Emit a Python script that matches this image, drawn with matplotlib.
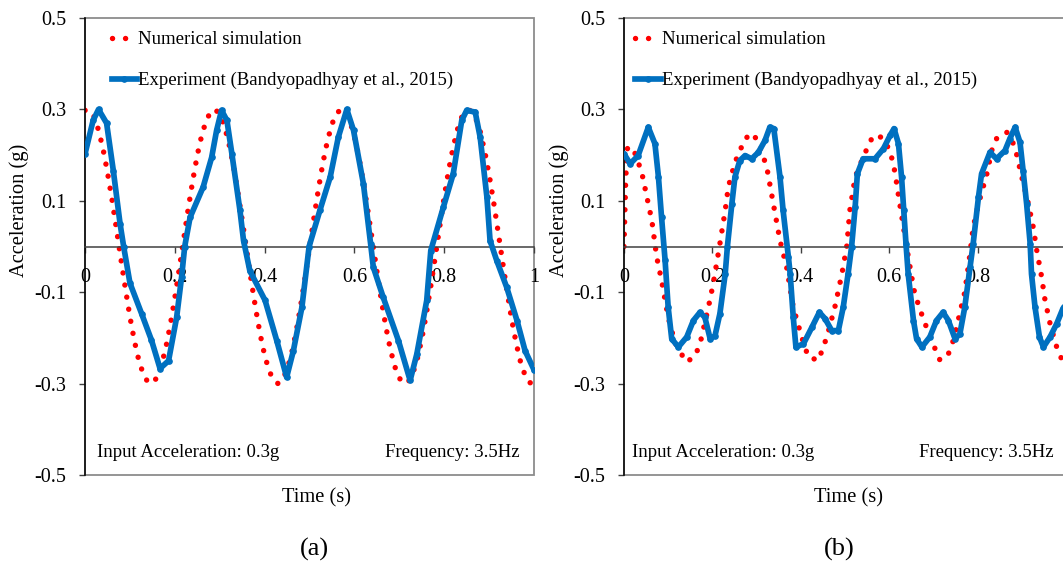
import matplotlib
matplotlib.use("Agg")
import matplotlib.pyplot as plt
from matplotlib.lines import Line2D

plt.rcParams['font.family'] = ['Liberation Serif', 'DejaVu Serif']
plt.rcParams['axes.unicode_minus'] = False

# ---- (a) numerical simulation, time (s) and acceleration (g) ----
t_num_a = [0.00, 0.01, 0.02, 0.03, 0.04, 0.05, 0.06, 0.07, 0.08, 0.09,
           0.10, 0.11, 0.12, 0.13, 0.14, 0.15, 0.16, 0.17, 0.18, 0.19,
           0.20, 0.21, 0.22, 0.23, 0.24, 0.25, 0.26, 0.27, 0.28, 0.29,
           0.30, 0.31, 0.32, 0.33, 0.34, 0.35, 0.36, 0.37, 0.38, 0.39,
           0.40, 0.41, 0.42, 0.43, 0.44, 0.45, 0.46, 0.47, 0.48, 0.49,
           0.50, 0.51, 0.52, 0.53, 0.54, 0.55, 0.56, 0.57, 0.58, 0.59,
           0.60, 0.61, 0.62, 0.63, 0.64, 0.65, 0.66, 0.67, 0.68, 0.69,
           0.70, 0.71, 0.72, 0.73, 0.74, 0.75, 0.76, 0.77, 0.78, 0.79,
           0.80, 0.81, 0.82, 0.83, 0.84, 0.85, 0.86, 0.87, 0.88, 0.89,
           0.90, 0.91, 0.92, 0.93, 0.94, 0.95, 0.96, 0.97, 0.98, 0.99, 1.00]
a_num_a = [0.298, 0.298, 0.284, 0.255, 0.214, 0.162, 0.103, 0.038, -0.028, -0.093,
           -0.154, -0.207, -0.250, -0.280, -0.297, -0.299, -0.287, -0.260, -0.221, -0.171,
           -0.112, -0.048, 0.018, 0.084, 0.145, 0.200, 0.244, 0.276, 0.295, 0.300,
           0.289, 0.265, 0.227, 0.179, 0.121, 0.058, -0.008, -0.074, -0.136, -0.192,
           -0.238, -0.272, -0.293, -0.300, -0.292, -0.269, -0.234, -0.187, -0.131, -0.068,
           -0.002, 0.064, 0.127, 0.184, 0.232, 0.268, 0.291, 0.300, 0.294, 0.274,
           0.240, 0.195, 0.140, 0.078, 0.012, -0.054, -0.118, -0.176, -0.225, -0.263,
           -0.288, -0.300, -0.296, -0.278, -0.246, -0.202, -0.148, -0.087, -0.022, 0.044,
           0.109, 0.168, 0.218, 0.258, 0.286, 0.299, 0.297, 0.281, 0.252, 0.209,
           0.157, 0.097, 0.032, -0.034, -0.099, -0.159, -0.211, -0.253, -0.282, -0.298, -0.299]

# ---- (a) experiment ----
t_exp_a = [0.000, 0.018, 0.030, 0.048, 0.063, 0.078, 0.086, 0.100, 0.126, 0.148,
           0.167, 0.186, 0.204, 0.215, 0.222, 0.234, 0.263, 0.282, 0.293, 0.304,
           0.316, 0.327, 0.345, 0.353, 0.367, 0.401, 0.427, 0.449, 0.464, 0.483,
           0.499, 0.523, 0.546, 0.564, 0.583, 0.598, 0.620, 0.636, 0.642, 0.664,
           0.698, 0.724, 0.739, 0.761, 0.770, 0.798, 0.820, 0.839, 0.850, 0.869,
           0.880, 0.895, 0.902, 0.917, 0.939, 0.962, 0.980, 1.000]
a_exp_a = [0.203, 0.276, 0.300, 0.270, 0.166, 0.050, 0.000, -0.080, -0.147, -0.205,
           -0.267, -0.250, -0.155, -0.067, 0.000, 0.064, 0.130, 0.195, 0.254, 0.298,
           0.276, 0.203, 0.079, 0.013, -0.053, -0.118, -0.206, -0.286, -0.228, -0.133,
           0.000, 0.079, 0.152, 0.239, 0.300, 0.254, 0.137, 0.006, -0.045, -0.111,
           -0.206, -0.293, -0.235, -0.118, -0.009, 0.086, 0.159, 0.276, 0.298, 0.294,
           0.239, 0.108, 0.013, -0.031, -0.089, -0.162, -0.228, -0.270]

# ---- (b) numerical simulation ----
t_num_b = [0.000, 0.004, 0.008, 0.020, 0.040, 0.051, 0.063, 0.074, 0.085, 0.100,
           0.115, 0.127, 0.142, 0.161, 0.172, 0.191, 0.202, 0.216, 0.229, 0.236,
           0.251, 0.274, 0.291, 0.304, 0.323, 0.338, 0.353, 0.368, 0.383, 0.402,
           0.417, 0.440, 0.459, 0.477, 0.493, 0.504, 0.511, 0.523, 0.541, 0.553,
           0.564, 0.583, 0.602, 0.613, 0.624, 0.636, 0.651, 0.658, 0.677, 0.696,
           0.715, 0.734, 0.745, 0.756, 0.771, 0.781, 0.790, 0.802, 0.821, 0.832,
           0.843, 0.866, 0.881, 0.888, 0.900, 0.915, 0.926, 0.934, 0.945, 0.952,
           0.964, 0.979, 0.990, 1.000]
a_num_b = [0.000, 0.150, 0.215, 0.217, 0.163, 0.112, 0.057, -0.023, -0.074, -0.155,
           -0.209, -0.231, -0.253, -0.239, -0.213, -0.133, -0.081, 0.000, 0.079, 0.130,
           0.184, 0.236, 0.248, 0.228, 0.174, 0.093, 0.013, -0.045, -0.133, -0.198,
           -0.242, -0.249, -0.198, -0.133, -0.060, 0.000, 0.079, 0.152, 0.195, 0.221,
           0.243, 0.239, 0.210, 0.163, 0.093, 0.020, -0.067, -0.104, -0.158, -0.206,
           -0.249, -0.235, -0.206, -0.162, -0.100, -0.030, 0.042, 0.093, 0.159, 0.210,
           0.236, 0.250, 0.225, 0.203, 0.152, 0.093, 0.042, -0.009, -0.067, -0.114,
           -0.169, -0.220, -0.246, -0.255]

# ---- (b) experiment ----
t_exp_b = [0.000, 0.014, 0.032, 0.055, 0.070, 0.078, 0.085, 0.093, 0.100, 0.108,
           0.123, 0.142, 0.157, 0.172, 0.183, 0.195, 0.206, 0.217, 0.229, 0.234,
           0.244, 0.251, 0.262, 0.274, 0.289, 0.304, 0.319, 0.330, 0.339, 0.353,
           0.360, 0.372, 0.376, 0.383, 0.389, 0.406, 0.425, 0.442, 0.455, 0.470,
           0.485, 0.496, 0.507, 0.515, 0.523, 0.528, 0.541, 0.568, 0.587, 0.602,
           0.611, 0.621, 0.628, 0.633, 0.638, 0.643, 0.655, 0.662, 0.674, 0.692,
           0.707, 0.722, 0.734, 0.749, 0.760, 0.771, 0.783, 0.790, 0.802, 0.809,
           0.828, 0.843, 0.862, 0.873, 0.885, 0.896, 0.903, 0.911, 0.919, 0.922,
           0.930, 0.940, 0.949, 0.964, 0.979, 0.993, 1.000]
a_exp_b = [0.203, 0.181, 0.199, 0.261, 0.225, 0.152, 0.064, -0.030, -0.133, -0.202,
           -0.220, -0.198, -0.162, -0.144, -0.155, -0.202, -0.195, -0.147, -0.060, 0.000,
           0.093, 0.152, 0.188, 0.199, 0.192, 0.206, 0.232, 0.261, 0.258, 0.152,
           0.079, -0.023, -0.060, -0.155, -0.220, -0.213, -0.177, -0.144, -0.158, -0.184,
           -0.184, -0.133, -0.060, 0.000, 0.086, 0.159, 0.192, 0.192, 0.214, 0.243,
           0.258, 0.225, 0.152, 0.079, 0.006, -0.060, -0.162, -0.202, -0.220, -0.198,
           -0.162, -0.144, -0.162, -0.202, -0.191, -0.133, -0.045, 0.006, 0.108, 0.159,
           0.206, 0.192, 0.210, 0.236, 0.261, 0.228, 0.166, 0.093, 0.006, -0.060,
           -0.133, -0.198, -0.220, -0.198, -0.169, -0.136, -0.125]

y_ticks = [-0.5, -0.3, -0.1, 0.1, 0.3, 0.5]
y_labels = ['-0.5', '-0.3', '-0.1', '0.1', '0.3', '0.5']
x_ticks = [0, 0.2, 0.4, 0.6, 0.8, 1.0]
x_labels_a = ['0', '0.2', '0.4', '0.6', '0.8', '1']
x_labels_b = ['0', '0.2', '0.4', '0.6', '0.8', '']

RED = '#FF0000'
BLUE = '#0070C0'
dot_style = (0, (0.01, 2.25))

fig = plt.figure(figsize=(10.63, 5.63), dpi=100)
ax_a = fig.add_axes([0.080, 0.1563, 0.4224, 0.8117])
ax_b = fig.add_axes([0.587, 0.1563, 0.4158, 0.8117])


def draw_panel(ax, t_num, a_num, t_exp, a_exp, xlabels, tag, tag_x, xlab_x, pos):
    ax.plot(t_num, a_num, color=RED, lw=3.9, linestyle=dot_style,
            dash_capstyle='round', zorder=2)
    ax.plot(t_exp, a_exp, color=BLUE, lw=4.1, marker='o', ms=3.8,
            solid_joinstyle='round', solid_capstyle='round', zorder=3)
    ax.set_xlim(0, 1)
    ax.set_ylim(-0.5, 0.5)

    # plot-area border, then axis lines on top
    ax.patch.set_edgecolor('#8c8c8c')
    ax.patch.set_linewidth(1.3)
    for s in ('top', 'right'):
        ax.spines[s].set_visible(False)
    ax.spines['left'].set_color('#000000')
    ax.spines['left'].set_linewidth(1.1)
    ax.spines['bottom'].set_position(('data', 0))
    ax.spines['bottom'].set_color('#404040')
    ax.spines['bottom'].set_linewidth(1.1)

    ax.set_yticks(y_ticks)
    ax.set_yticklabels(y_labels)
    ax.set_xticks(x_ticks)
    ax.set_xticklabels(xlabels)
    ax.tick_params(axis='y', direction='out', length=4.5, width=1, pad=9,
                   labelsize=14.5, color='#404040')
    ax.tick_params(axis='x', direction='out', length=4, width=1, pad=11.5,
                   labelsize=14.5, color='#404040')

    ax.set_ylabel('Acceleration (g)', fontsize=14.8)
    ax.yaxis.set_label_coords(-0.125, 0.58)
    ax.text(xlab_x, -0.05, 'Time (s)', transform=ax.transAxes, fontsize=14.8,
            ha='center', va='center')
    ax.text(tag_x, -0.162, tag, transform=ax.transAxes, fontsize=19,
            ha='center', va='center')

    ax.text(pos[1], 0.05, 'Input Acceleration: 0.3g', transform=ax.transAxes,
            fontsize=13.5, ha='left', va='center')
    ax.text(pos[2], 0.05, 'Frequency: 3.5Hz', transform=ax.transAxes,
            fontsize=13.5, ha='right', va='center')

    handles = [Line2D([], [], color=RED, lw=3.9, linestyle=(0, (0.01, 2.4)),
                      dash_capstyle='round'),
               Line2D([], [], color=BLUE, lw=4.1, marker='o', ms=3.8)]
    ax.legend(handles, ['Numerical simulation',
                        'Experiment (Bandyopadhyay et al., 2015)'],
              loc='upper left', bbox_to_anchor=(pos[0], 1.0), frameon=False,
              fontsize=13.5, handlelength=1.35, handletextpad=0.08,
              labelspacing=1.27, borderaxespad=0.4, borderpad=0.3, numpoints=1)


draw_panel(ax_a, t_num_a, a_num_a, t_exp_a, a_exp_a, x_labels_a, '(a)', 0.512, 0.516,
           (0.03, 0.027, 0.967))
draw_panel(ax_b, t_num_b, a_num_b, t_exp_b, a_exp_b, x_labels_b, '(b)', 0.487, 0.507,
           (-0.004, 0.018, 0.971))

fig.savefig('out.png', dpi=100)
